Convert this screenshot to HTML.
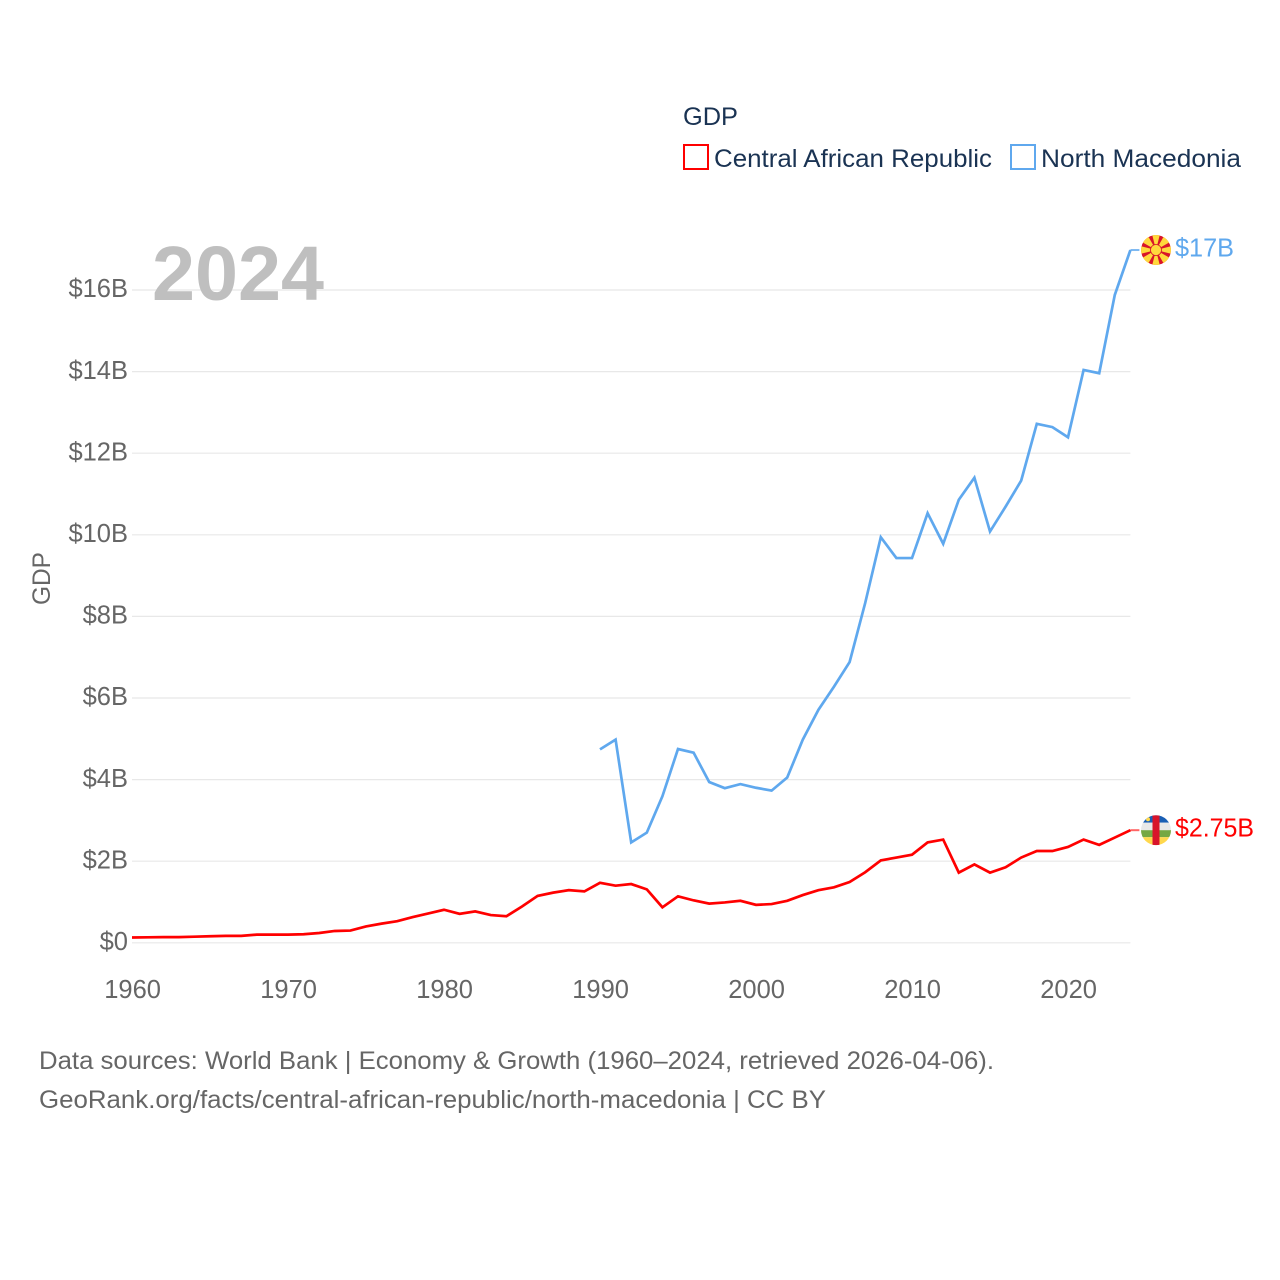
<!DOCTYPE html>
<html lang="en">
<head>
<meta charset="utf-8">
<title>GDP: Central African Republic and North Macedonia</title>
<style>
html,body{margin:0;padding:0;background:#fff;width:1280px;height:1280px;overflow:hidden}
svg{display:block}
text{font-family:"Liberation Sans",sans-serif}
</style>
</head>
<body>
<svg id="chart" xmlns="http://www.w3.org/2000/svg" width="1280" height="1280" viewBox="0 0 1280 1280">
  <defs>
    <clipPath id="flag-clip"><circle cx="0" cy="0" r="15"/></clipPath>
  </defs>
  <rect x="0" y="0" width="1280" height="1280" fill="#ffffff"/>
  <g id="grid"></g>
  <text x="152" y="300" font-size="77" font-weight="700" fill="#bfbfbf" textLength="172" lengthAdjust="spacingAndGlyphs">2024</text>
  <g id="y-ticks"></g>
  <g id="x-ticks"></g>
  <text transform="translate(50,578.5) rotate(-90)" text-anchor="middle" font-size="25" fill="#666666" textLength="53" lengthAdjust="spacingAndGlyphs">GDP</text>
  <g id="series"></g>

  <g>
    <text x="683" y="125" font-size="25" fill="#1a3353" textLength="55" lengthAdjust="spacingAndGlyphs">GDP</text>
    <rect x="684" y="145" width="24" height="24" fill="none" stroke="#ff0000" stroke-width="2"/>
    <text x="714" y="167" font-size="25" fill="#1a3353" textLength="278" lengthAdjust="spacingAndGlyphs">Central African Republic</text>
    <rect x="1011" y="145" width="24" height="24" fill="none" stroke="#5fa8ee" stroke-width="2"/>
    <text x="1041" y="167" font-size="25" fill="#1a3353" textLength="200" lengthAdjust="spacingAndGlyphs">North Macedonia</text>
  </g>

  <g id="flag-mk">
    <g clip-path="url(#flag-clip)">
      <circle cx="0" cy="0" r="15" fill="#d8142a"/>
      <g fill="#ffd83c">
        <polygon points="-4,-16 4,-16 0,0"/>
        <polygon points="-4,16 4,16 0,0"/>
        <polygon points="-16,-4 -16,4 0,0"/>
        <polygon points="16,-4 16,4 0,0"/>
        <polygon points="-14,-8 -8,-14 0,0"/>
        <polygon points="14,-8 8,-14 0,0"/>
        <polygon points="-14,8 -8,14 0,0"/>
        <polygon points="14,8 8,14 0,0"/>
      </g>
      <circle cx="0" cy="0" r="5.5" fill="#ffd83c" stroke="#d8142a" stroke-width="0.8"/>
    </g>
  </g>
  <g id="flag-cf">
    <g clip-path="url(#flag-clip)">
      <rect x="-15" y="-15" width="30" height="7.5" fill="#1a5fb4"/>
      <rect x="-15" y="-7.5" width="30" height="7.5" fill="#e8e8e8"/>
      <rect x="-15" y="0" width="30" height="7" fill="#75a843"/>
      <rect x="-15" y="7" width="30" height="8" fill="#ffd84d"/>
      <rect x="-3.5" y="-15" width="7" height="30" fill="#d8142a"/>
      <circle cx="-8" cy="-11" r="2" fill="#ffd84d"/>
    </g>
  </g>

  <text id="label-mk" x="1175" font-size="25.5" fill="#5fa8ee" textLength="59" lengthAdjust="spacingAndGlyphs"></text>
  <text id="label-cf" x="1175" font-size="25.5" fill="#ff0000" textLength="79" lengthAdjust="spacingAndGlyphs"></text>

  <g>
    <text x="39" y="1069" font-size="25" fill="#666666" textLength="955" lengthAdjust="spacingAndGlyphs">Data sources: World Bank | Economy &amp; Growth (1960–2024, retrieved 2026-04-06).</text>
    <text x="39" y="1108" font-size="25" fill="#666666" textLength="787" lengthAdjust="spacingAndGlyphs">GeoRank.org/facts/central-african-republic/north-macedonia | CC BY</text>
  </g>
</svg>
<script>
const firstYear = 1960;
const carValues = [0.13,0.135,0.14,0.14,0.15,0.16,0.17,0.17,0.2,0.2,0.2,0.21,0.24,0.29,0.3,0.4,0.47,0.53,0.63,0.72,0.81,0.71,0.77,0.68,0.65,0.89,1.15,1.23,1.29,1.26,1.47,1.4,1.44,1.31,0.87,1.14,1.04,0.96,0.99,1.03,0.93,0.95,1.03,1.17,1.29,1.36,1.49,1.73,2.02,2.09,2.16,2.46,2.53,1.72,1.92,1.72,1.85,2.09,2.25,2.25,2.35,2.53,2.4,2.58,2.76];
const mkdFirstYear = 1990;
const mkdValues = [4.74,4.98,2.46,2.7,3.59,4.75,4.66,3.94,3.79,3.89,3.8,3.73,4.05,4.98,5.71,6.28,6.88,8.33,9.94,9.43,9.43,10.53,9.78,10.86,11.4,10.08,10.69,11.33,12.72,12.64,12.39,14.04,13.96,15.88,16.98];
const yTickValues = [0,2,4,6,8,10,12,14,16];
const yTickLabels = ['$0','$2B','$4B','$6B','$8B','$10B','$12B','$14B','$16B'];
const xTickYears = [1960,1970,1980,1990,2000,2010,2020];
const carLabel = '$2.75B';
const mkdLabel = '$17B';

const SVG_NS = 'http://www.w3.org/2000/svg';
function xScale(year){ return 132 + (year - 1960) * 15.6; }
function yScale(v){ return 942.8 - v * 40.8; }
function make(tag, attrs, parent){
  const el = document.createElementNS(SVG_NS, tag);
  Object.keys(attrs).forEach(function(k){ el.setAttribute(k, attrs[k]); });
  parent.appendChild(el);
  return el;
}

const grid = document.getElementById('grid');
const yTicks = document.getElementById('y-ticks');
const xTicks = document.getElementById('x-ticks');
const series = document.getElementById('series');

yTickValues.forEach(function(v, i){
  const line = make('line', {x1: xScale(1960), x2: xScale(2024), y1: yScale(v), y2: yScale(v), stroke: '#e8e8e8', 'stroke-width': 1.2}, grid);
  
  
  const t = make('text', {x: 128, y: yScale(v) + 7.2, 'text-anchor': 'end', 'font-size': 25.5, fill: '#666666'}, yTicks);
  
  
  t.textContent = yTickLabels[i];
});

xTickYears.forEach(function(year){
  const t = make('text', {x: xScale(year) + 0.6, y: 998, 'text-anchor': 'middle', 'font-size': 25.5, fill: '#666666'}, xTicks);
  
  
  t.textContent = String(year);
});

function pointsFor(values, startYear){
  return values.map(function(v, i){ return xScale(startYear + i).toFixed(2) + ',' + yScale(v).toFixed(2); }).join(' ');
}

const carLine = make('polyline', {points: pointsFor(carValues, firstYear), fill: 'none', stroke: '#ff0000', 'stroke-width': 2.7, 'stroke-linejoin': 'miter'}, series);



const mkdLine = make('polyline', {points: pointsFor(mkdValues, mkdFirstYear), fill: 'none', stroke: '#5fa8ee', 'stroke-width': 2.7, 'stroke-linejoin': 'miter'}, series);



const carLast = carValues[carValues.length - 1];
const mkdLast = mkdValues[mkdValues.length - 1];
const endX = xScale(firstYear + carValues.length - 1);

const carStub = make('line', {x1: endX, x2: endX + 9, y1: yScale(carLast), y2: yScale(carLast), stroke: '#ff0000', 'stroke-width': 2, opacity: 0.6}, series);



const mkdStub = make('line', {x1: endX, x2: endX + 9, y1: yScale(mkdLast), y2: yScale(mkdLast), stroke: '#5fa8ee', 'stroke-width': 2, opacity: 0.8}, series);



document.getElementById('flag-mk').setAttribute('transform', 'translate(' + (endX + 25.6) + ',' + yScale(mkdLast) + ')');
document.getElementById('flag-cf').setAttribute('transform', 'translate(' + (endX + 25.6) + ',' + yScale(carLast) + ')');

const labelMk = document.getElementById('label-mk');
labelMk.setAttribute('y', yScale(mkdLast) + 6.5);
labelMk.textContent = mkdLabel;
const labelCf = document.getElementById('label-cf');
labelCf.setAttribute('y', yScale(carLast) + 6.5);
labelCf.textContent = carLabel;
</script>
</body>
</html>
